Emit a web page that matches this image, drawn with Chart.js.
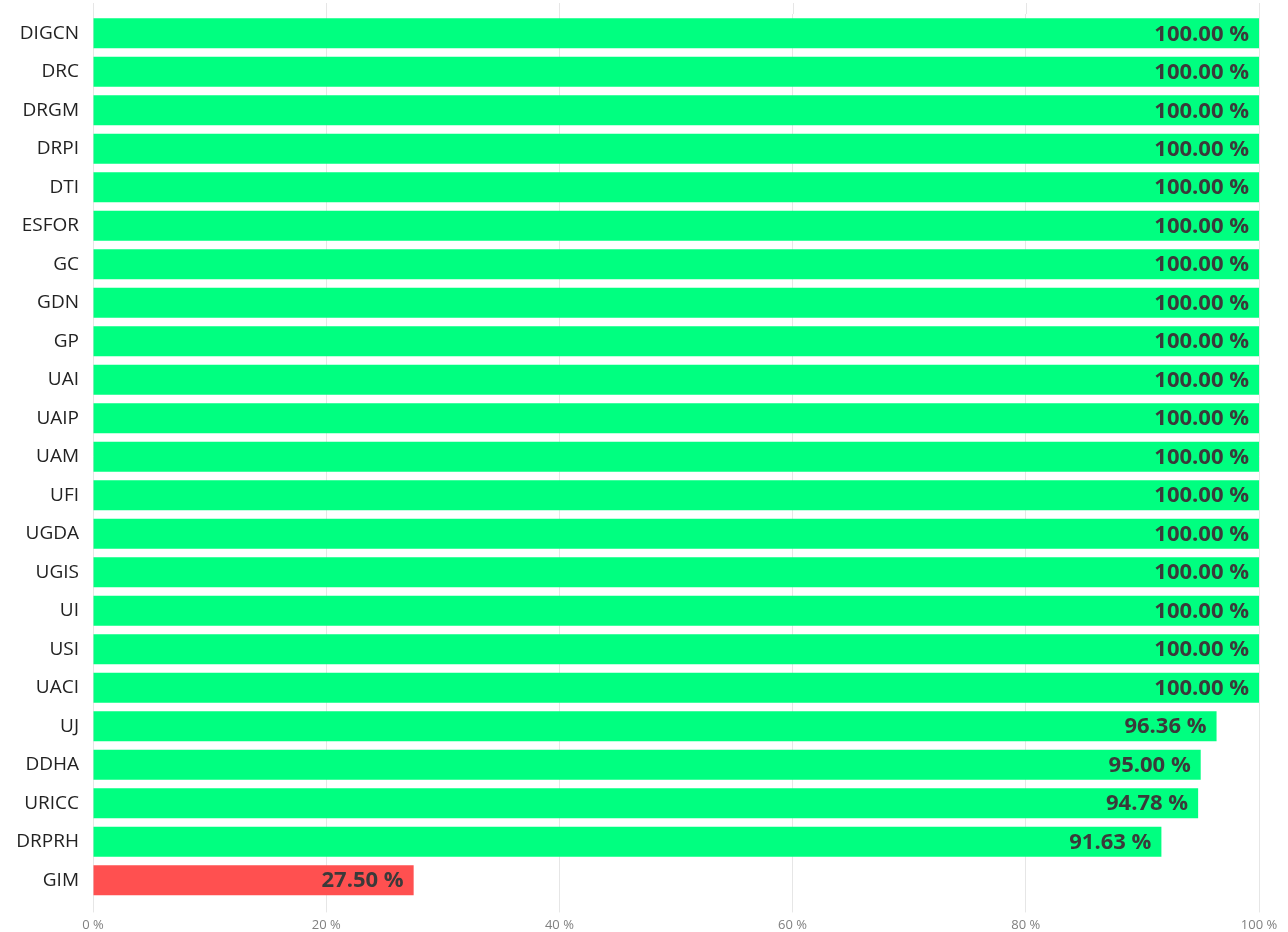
<!DOCTYPE html>
<html>
<head>
<meta charset="utf-8">
<script src="https://cdn.jsdelivr.net/npm/chart.js@4.4.0/dist/chart.umd.min.js"></script>
<style>
  html, body { margin: 0; padding: 0; background: #fff; }
  #wrap { width: 1288px; height: 932px; }
</style>
</head>
<body>
<div id="wrap"><canvas id="chart"></canvas></div>
<script>
var units = ['DIGCN', 'DRC', 'DRGM', 'DRPI', 'DTI', 'ESFOR', 'GC', 'GDN', 'GP', 'UAI', 'UAIP', 'UAM',
  'UFI', 'UGDA', 'UGIS', 'UI', 'USI', 'UACI', 'UJ', 'DDHA', 'URICC', 'DRPRH', 'GIM'];
var rates = [100, 100, 100, 100, 100, 100, 100, 100, 100, 100, 100, 100,
  100, 100, 100, 100, 100, 100, 96.36, 95.00, 94.78, 91.63, 27.50];
var xTicks = [0, 20, 40, 60, 80, 100];

var goodColor = '#00FF80';
var badColor = '#FF5050';
var gridColor = '#e6e6e6';

// the vertical grid runs a little above the first bar
var gridTop = {
  id: 'gridTop',
  beforeDatasetsDraw: function (chart) {
    var ctx = chart.ctx;
    var xs = chart.scales.x;
    ctx.save();
    ctx.strokeStyle = gridColor;
    ctx.lineWidth = 1;
    xTicks.forEach(function (v) {
      var px = Math.round(xs.getPixelForValue(v)) + 0.5;
      ctx.beginPath();
      ctx.moveTo(px, 3);
      ctx.lineTo(px, chart.chartArea.top);
      ctx.stroke();
    });
    ctx.restore();
  }
};

// value labels drawn inside the end of each bar
var barLabels = {
  id: 'barLabels',
  afterDatasetsDraw: function (chart) {
    var ctx = chart.ctx;
    var meta = chart.getDatasetMeta(0);
    ctx.save();
    ctx.font = 'bold 22px "Open Sans", sans-serif';
    ctx.fillStyle = '#3a3a3a';
    ctx.textAlign = 'right';
    ctx.textBaseline = 'middle';
    meta.data.forEach(function (bar, i) {
      ctx.fillText(rates[i].toFixed(2) + ' %', bar.x - 10, bar.y + 1);
    });
    ctx.restore();
  }
};

new Chart(document.getElementById('chart'), {
  type: 'bar',
  data: {
    labels: units,
    datasets: [{
      data: rates,
      backgroundColor: rates.map(function (v) { return v < 50 ? badColor : goodColor; }),
      borderWidth: 0,
      categoryPercentage: 1,
      barPercentage: 0.78
    }]
  },
  options: {
    indexAxis: 'y',
    responsive: true,
    maintainAspectRatio: false,
    animation: false,
    layout: { padding: { top: 14, right: 29, bottom: -6, left: 0 } },
    plugins: {
      legend: { display: false },
      tooltip: { enabled: false }
    },
    scales: {
      x: {
        min: 0,
        max: 100,
        afterBuildTicks: function (axis) {
          axis.ticks = xTicks.map(function (v) { return { value: v }; });
        },
        border: { display: false },
        grid: { color: gridColor, lineWidth: 1, drawTicks: true, tickLength: 13 },
        ticks: {
          color: '#808080',
          padding: 5,
          font: { family: '"Open Sans", sans-serif', size: 13 },
          maxRotation: 0,
          callback: function (v) { return v + ' %'; }
        }
      },
      y: {
        afterFit: function (axis) {
          axis.width = 93;
          axis.paddingTop = 0;
          axis.paddingBottom = 0;
        },
        border: { display: false },
        grid: { display: false, drawTicks: false },
        ticks: {
          color: '#222',
          padding: 14,
          font: { family: '"Open Sans", sans-serif', size: 19 },
          autoSkip: false
        }
      }
    }
  },
  plugins: [gridTop, barLabels]
});
</script>
</body>
</html>
